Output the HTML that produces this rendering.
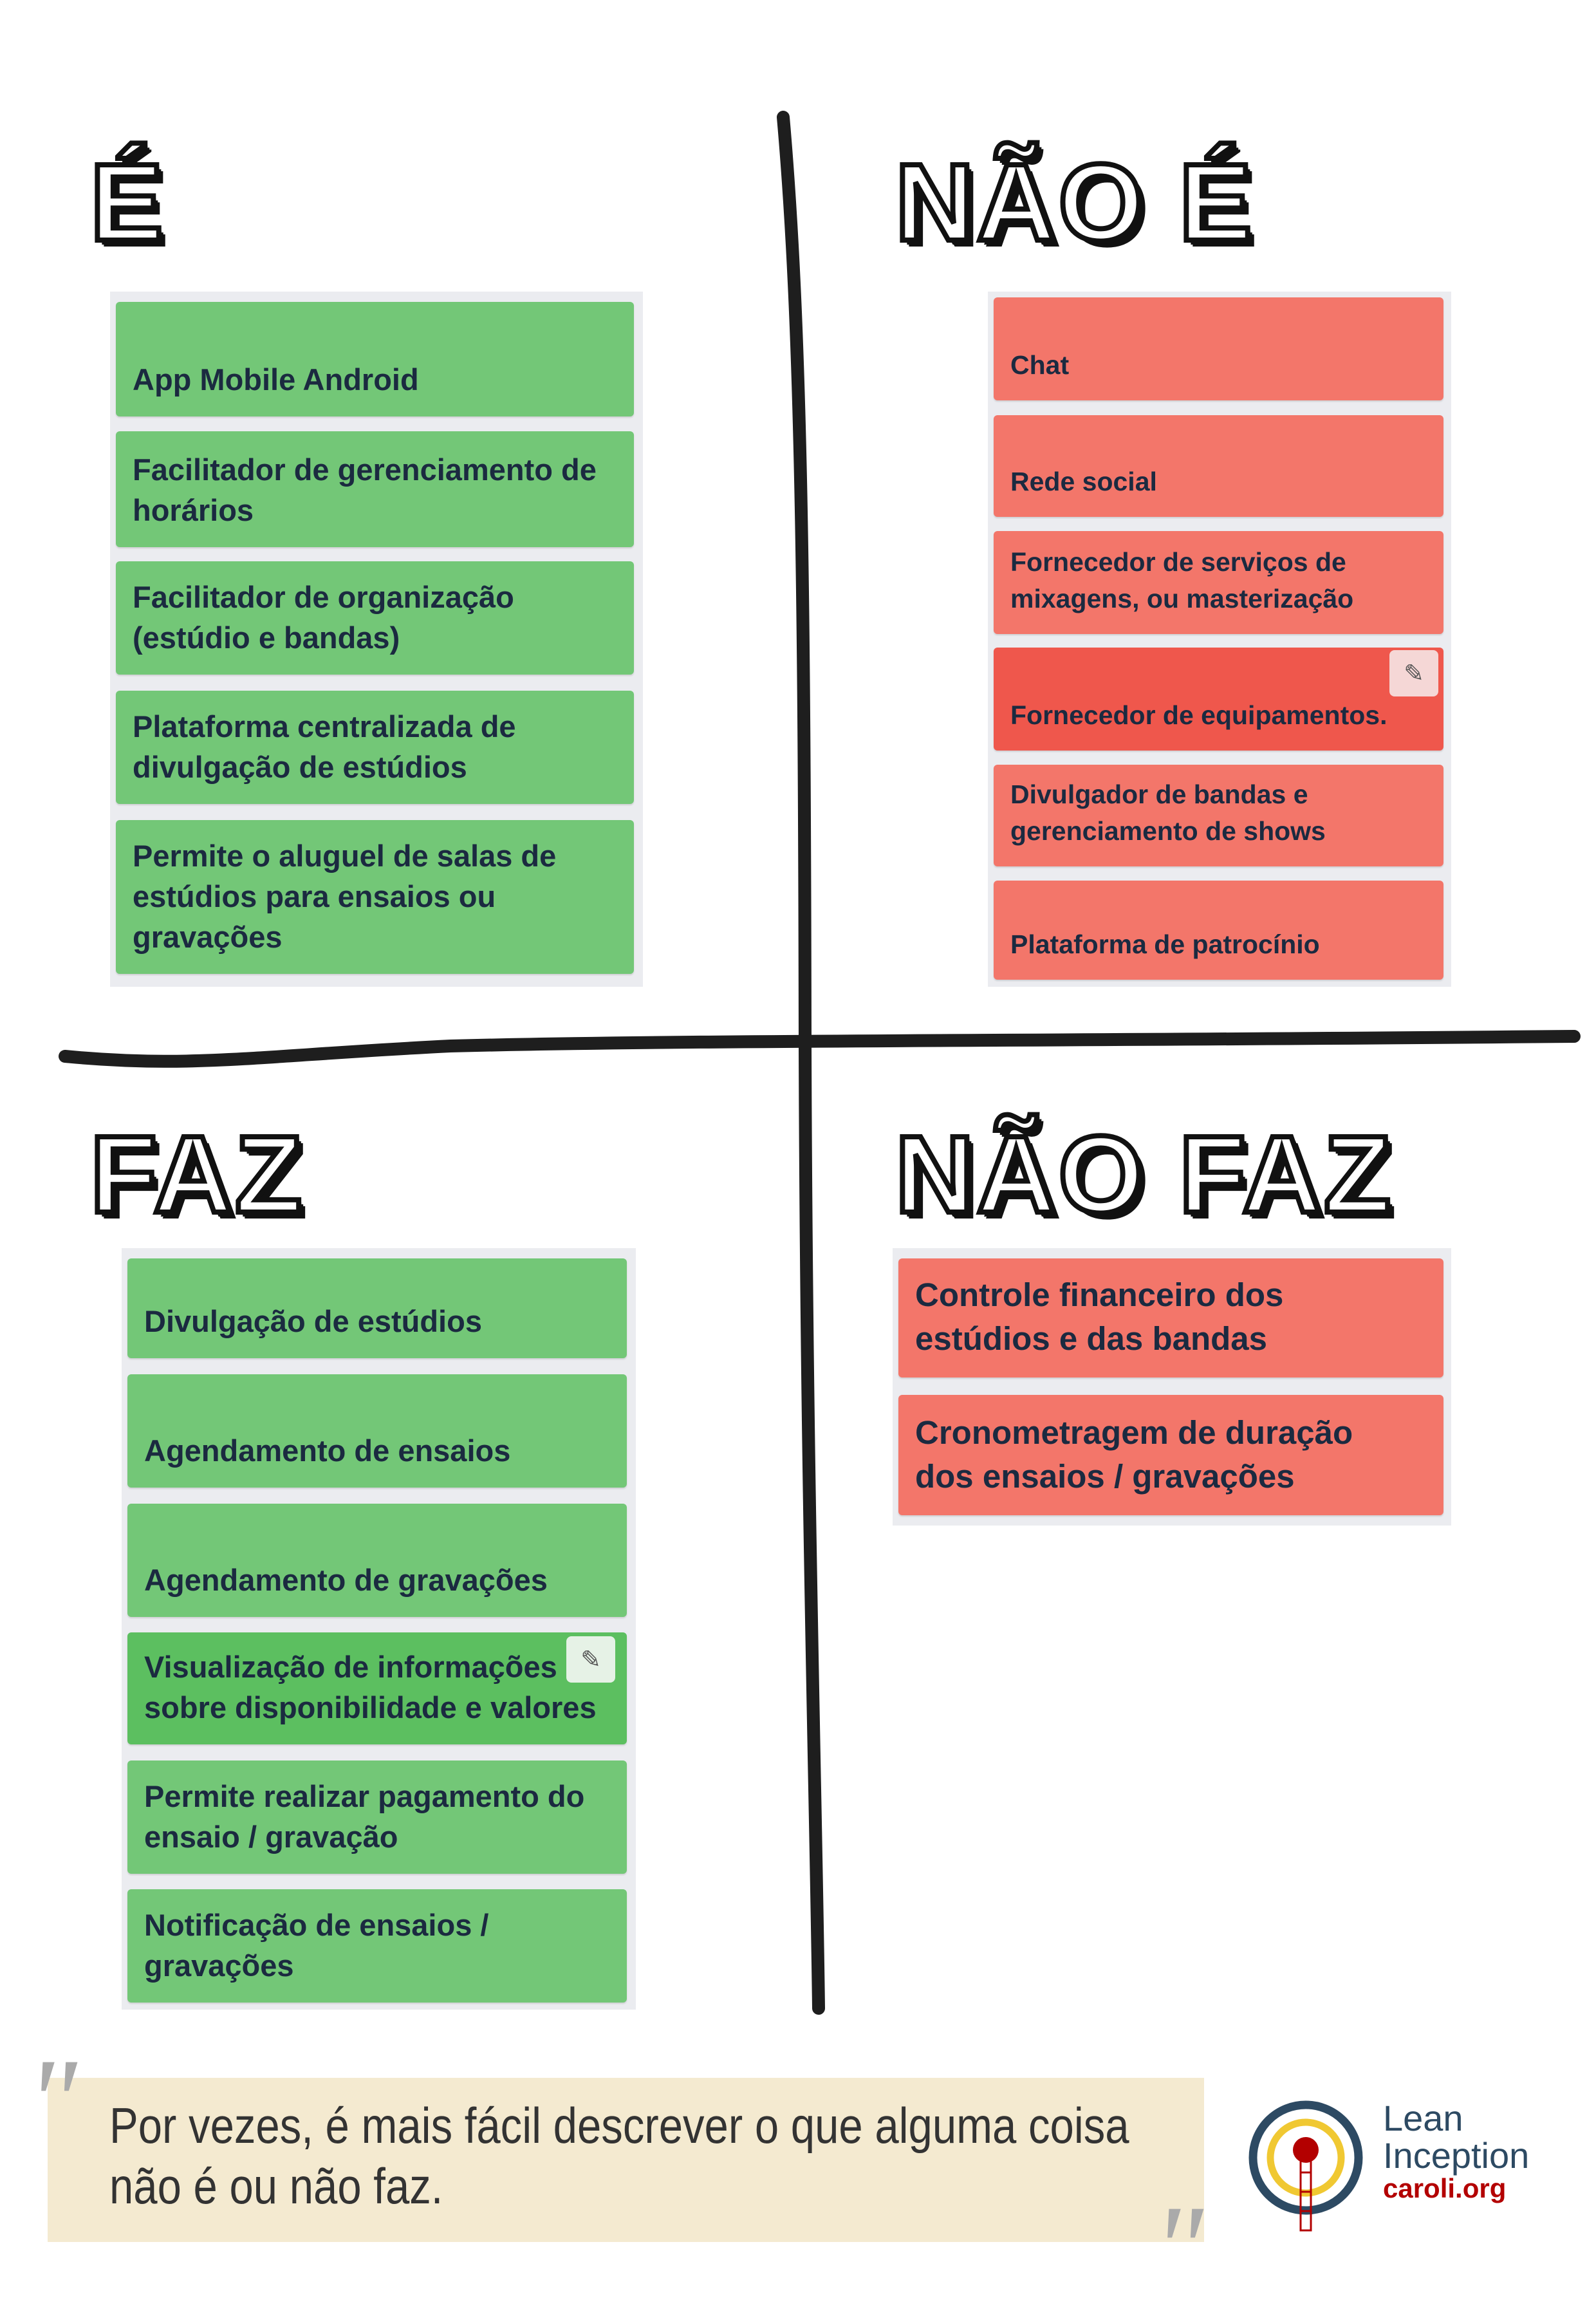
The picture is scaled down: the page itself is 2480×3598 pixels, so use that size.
<!DOCTYPE html>
<html><head><meta charset="utf-8"><style>
*{margin:0;padding:0;box-sizing:border-box}
body{width:2480px;height:3496px;background:#fff;position:relative;overflow:hidden;font-family:"Liberation Sans",sans-serif}
.t{position:absolute;font-family:"Liberation Sans",sans-serif;font-weight:900;font-size:170px;color:#fff;-webkit-text-stroke:8px #111;text-shadow:10px 10px 0 #111,7px 7px 0 #111,4px 4px 0 #111;letter-spacing:4px;line-height:1}
.p{position:absolute;background:#ebecf0}
.c{position:absolute;border-radius:6px;display:flex;flex-direction:column;justify-content:flex-end;color:#1b2a40;padding:0 20px 26px 26px;box-shadow:0 2px 2px rgba(0,0,0,.12);font-weight:bold}
.g{background:#73c777;font-size:47px;line-height:63px}
.r{background:#f3766a;font-size:41px;line-height:57px}
.pen{position:absolute;width:76px;height:72px;background:#f5d7d6;border-radius:8px;font-size:38px;color:#555;display:flex;align-items:center;justify-content:center}
</style></head><body>
<svg width="2480" height="3496" style="position:absolute;left:0;top:0">
<path d="M1217 182 C1245 500 1250 900 1251 1623 C1253 2300 1268 2800 1272 3120" stroke="#1e1e1e" stroke-width="20" fill="none" stroke-linecap="round"/>
<path d="M101 1641 C300 1660 400 1640 700 1625 C1100 1615 1600 1618 2446 1610" stroke="#1e1e1e" stroke-width="20" fill="none" stroke-linecap="round"/>
</svg>
<div class="t" style="left:140px;top:230px">É</div>
<div class="t" style="left:1391px;top:230px">NÃO É</div>
<div class="t" style="left:140px;top:1740px">FAZ</div>
<div class="t" style="left:1391px;top:1740px">NÃO FAZ</div>

<div class="p" style="left:171px;top:453px;width:828px;height:1080px"></div>
<div class="c g" style="left:180px;top:469px;width:805px;height:178px">App Mobile Android</div>
<div class="c g" style="left:180px;top:670px;width:805px;height:180px">Facilitador de gerenciamento de horários</div>
<div class="c g" style="left:180px;top:872px;width:805px;height:176px">Facilitador de organização (estúdio e bandas)</div>
<div class="c g" style="left:180px;top:1073px;width:805px;height:176px">Plataforma centralizada de divulgação de estúdios</div>
<div class="c g" style="left:180px;top:1274px;width:805px;height:239px">Permite o aluguel de salas de estúdios para ensaios ou gravações</div>

<div class="p" style="left:1535px;top:453px;width:720px;height:1080px"></div>
<div class="c r" style="left:1544px;top:462px;width:699px;height:160px">Chat</div>
<div class="c r" style="left:1544px;top:645px;width:699px;height:158px">Rede social</div>
<div class="c r" style="left:1544px;top:825px;width:699px;height:160px">Fornecedor de serviços de mixagens, ou masterização</div>
<div class="c r" style="left:1544px;top:1006px;width:699px;height:160px;background:#ef574c;white-space:nowrap">Fornecedor de equipamentos.</div>
<div class="pen" style="left:2159px;top:1010px">✎</div>
<div class="c r" style="left:1544px;top:1188px;width:699px;height:158px">Divulgador de bandas e gerenciamento de shows</div>
<div class="c r" style="left:1544px;top:1368px;width:699px;height:154px">Plataforma de patrocínio</div>

<div class="p" style="left:189px;top:1939px;width:799px;height:1183px"></div>
<div class="c g" style="left:198px;top:1955px;width:776px;height:155px">Divulgação de estúdios</div>
<div class="c g" style="left:198px;top:2135px;width:776px;height:176px">Agendamento de ensaios</div>
<div class="c g" style="left:198px;top:2336px;width:776px;height:176px">Agendamento de gravações</div>
<div class="c g" style="left:198px;top:2536px;width:776px;height:174px;background:#5cbf60;white-space:nowrap">Visualização de informações<br>sobre disponibilidade e valores</div>
<div class="pen" style="left:880px;top:2542px;background:#e6f2e6">✎</div>
<div class="c g" style="left:198px;top:2735px;width:776px;height:176px">Permite realizar pagamento do ensaio / gravação</div>
<div class="c g" style="left:198px;top:2935px;width:776px;height:176px">Notificação de ensaios / gravações</div>

<div class="p" style="left:1387px;top:1939px;width:868px;height:431px"></div>
<div class="c r" style="left:1396px;top:1955px;width:847px;height:185px;font-size:51px;line-height:68px;white-space:nowrap">Controle financeiro dos<br>estúdios e das bandas</div>
<div class="c r" style="left:1396px;top:2167px;width:847px;height:187px;font-size:51px;line-height:68px;white-space:nowrap">Cronometragem de duração<br>dos ensaios / gravações</div>

<div style="position:absolute;left:74px;top:3228px;width:1797px;height:255px;background:#f4ead0"></div>
<div style="position:absolute;left:40px;top:3170px;font-size:190px;color:#aaa;font-style:italic;font-family:'Liberation Serif',serif;line-height:1">"</div>
<div style="position:absolute;left:1790px;top:3398px;font-size:190px;color:#aaa;font-style:italic;font-family:'Liberation Serif',serif;line-height:1">"</div>
<div style="position:absolute;left:170px;top:3255px;font-size:78px;line-height:94px;color:#333;transform:scaleX(0.86);transform-origin:left top;white-space:nowrap">Por vezes, é mais fácil descrever o que alguma coisa<br>não é ou não faz.</div>

<svg width="240" height="220" style="position:absolute;left:1920px;top:3250px">
<circle cx="109" cy="102" r="82" fill="none" stroke="#2d4a63" stroke-width="13"/>
<circle cx="109" cy="102" r="55" fill="none" stroke="#f0c832" stroke-width="11"/>
<circle cx="109" cy="90" r="20" fill="#b30000"/>
<rect x="101" y="95" width="16" height="120" fill="none" stroke="#b30000" stroke-width="3"/>
<line x1="101" y1="125" x2="117" y2="125" stroke="#b30000" stroke-width="3"/>
<line x1="101" y1="155" x2="117" y2="155" stroke="#b30000" stroke-width="3"/>
<line x1="101" y1="185" x2="117" y2="185" stroke="#b30000" stroke-width="3"/>
</svg>
<div style="position:absolute;left:2149px;top:3262px;color:#2d4a63;font-size:56px;line-height:58px">Lean<br>Inception</div>
<div style="position:absolute;left:2149px;top:3378px;color:#b30000;font-size:42px;line-height:44px;font-weight:bold">caroli.org</div>
</body></html>
